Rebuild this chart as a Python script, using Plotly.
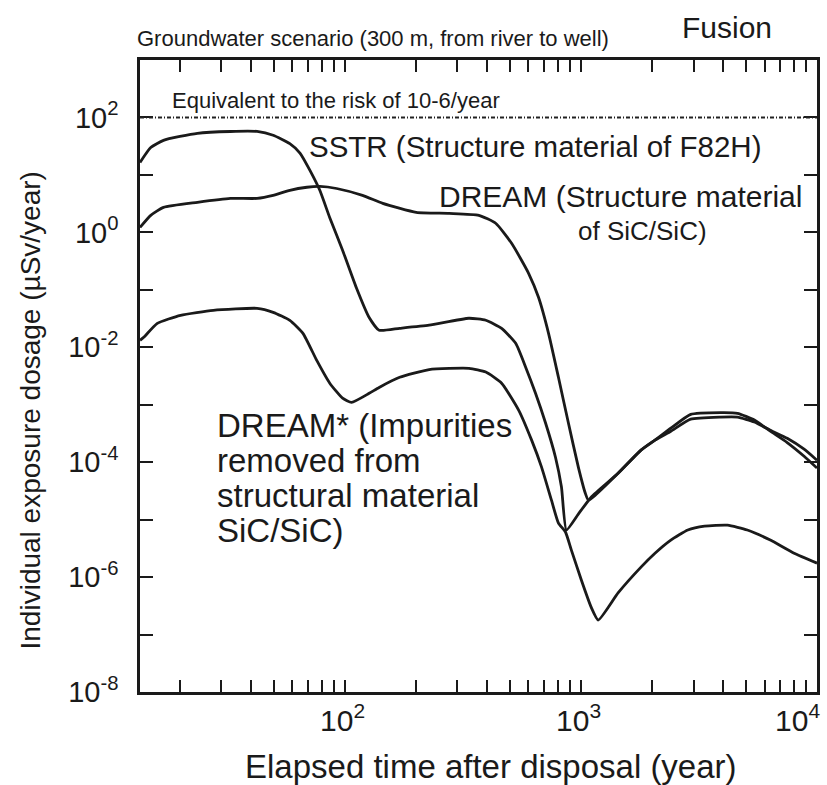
import math
import plotly.graph_objects as go

# ---------------- data ----------------
sstr_t = [13.6, 15.1, 17.1, 23.8, 32.8, 42.6, 49.8, 58.6, 64.7, 71.3,
          78.5, 86.5, 98, 112, 127, 140, 171, 228, 336, 396,
          462, 530, 584, 643, 709, 781, 828, 869, 976, 1106,
          1438, 1798, 2061, 2405, 2919, 3906, 4605, 5430, 6343, 7478,
          8818, 10000]
sstr_v = [16.5, 30, 40, 53, 57, 57, 49, 35, 24, 12,
          5.4, 1.8, 0.49, 0.11, 0.033, 0.0198, 0.0214, 0.0242, 0.032, 0.0295,
          0.0214, 0.0117, 0.0045, 1.58e-3, 4.8e-4, 1.22e-4, 3.7e-5, 6.6e-6, 1.25e-5, 2.46e-5,
          6.4e-5, 1.62e-4, 2.42e-4, 3.9e-4, 6.8e-4, 7.3e-4, 7.1e-4, 5.4e-4, 3.46e-4, 2.2e-4,
          1.27e-4, 7.9e-5]

dream_t = [13.6, 15.1, 17.1, 23.8, 32.8, 42.6, 49.8, 58.6, 69.2, 78.5,
           92.5, 119, 145, 201, 277, 370, 436, 510, 601, 662,
           730, 804, 886, 976, 1044, 1076, 1152, 1438, 1798, 2061,
           2405, 2919, 3906, 4605, 5430, 6343, 7478, 8818, 10000]
dream_v = [1.22, 1.98, 2.72, 3.33, 3.9, 3.9, 4.4, 5.4, 6.1, 6.3,
           5.8, 4.4, 3.2, 2.23, 2.14, 1.98, 1.44, 0.64, 0.194, 0.074,
           0.0175, 3.0e-3, 4.8e-4, 8.2e-5, 2.9e-5, 2.18e-5, 2.67e-5, 6.4e-5, 1.62e-4, 2.42e-4,
           3.46e-4, 5.6e-4, 6.1e-4, 6.1e-4, 5.0e-4, 3.6e-4, 2.6e-4, 1.68e-4, 1.08e-4]

dreamstar_t = [13.6, 14.1, 16.1, 20.2, 27.8, 42.6, 49.8, 58.6, 66.6, 76.2,
               86.5, 98, 107, 127, 140, 171, 228, 336, 396, 462,
               546, 619, 682, 751, 804, 861, 912, 1005, 1106, 1185,
               1438, 1798, 2061, 2405, 2838, 3343, 4178, 5070, 6343, 8001,
               10000]
dreamstar_v = [0.0132, 0.0149, 0.0261, 0.036, 0.044, 0.0476, 0.0406, 0.0295, 0.0175, 5.9e-3,
               2.37e-3, 1.30e-3, 1.10e-3, 1.58e-3, 2.0e-3, 3.0e-3, 4.1e-3, 4.3e-3, 3.7e-3, 2.37e-3,
               8.0e-4, 2.42e-4, 8.2e-5, 2.18e-5, 8.7e-6, 6.1e-6, 2.95e-6, 8.9e-7, 3.0e-7, 1.79e-7,
               5.3e-7, 1.49e-6, 2.6e-6, 4.4e-6, 6.6e-6, 7.7e-6, 8.0e-6, 6.6e-6, 4.4e-6, 2.6e-6,
               1.75e-6]

risk_level = 100  # "Equivalent to the risk of 10-6/year"

x_min = 13.6
x_major = [100, 1000, 10000]
x_major_text = ["10<sup>2</sup>", "10<sup>3</sup>", "10<sup>4</sup>"]
x_minor = [20, 30, 40, 50, 60, 70, 80, 90,
           200, 300, 400, 500, 600, 700, 800, 900,
           2000, 3000, 4000, 5000, 6000, 7000, 8000, 9000]
y_ticks = [1e-8, 1e-7, 1e-6, 1e-5, 1e-4, 1e-3, 1e-2, 1e-1, 1e0, 1e1, 1e2]
y_text = ["10<sup>-8</sup>", "", "10<sup>-6</sup>", "", "10<sup>-4</sup>", "",
          "10<sup>-2</sup>", "", "10<sup>0</sup>", "", "10<sup>2</sup>"]

# ---------------- layout geometry ----------------
W, H = 827, 785
L, R, T, B = 140, 820, 60, 692
FONT = "Arial, Liberation Sans, Helvetica, sans-serif"
INK = "#1a1a1a"


def P(px, py):
    return (px - L) / (R - L), (B - py) / (B - T)


fig = go.Figure()
line_style = dict(color=INK, width=2.8, shape="spline", smoothing=0.5)
for name, t, v in [("SSTR", sstr_t, sstr_v),
                   ("DREAM", dream_t, dream_v),
                   ("DREAM*", dreamstar_t, dreamstar_v)]:
    fig.add_trace(go.Scatter(x=t, y=v, mode="lines", name=name,
                             line=line_style, showlegend=False))

fig.add_hline(y=risk_level, line=dict(color="#222", width=2, dash="4px,2px,1px,2px"))

xrange_log = [math.log10(x_min), 4]
all_x_ticks = sorted(x_major + x_minor)
fig.update_layout(
    xaxis=dict(type="log", range=xrange_log,
               showline=True, linecolor=INK, linewidth=2.5, mirror="ticks",
               ticks="inside", ticklen=12, tickwidth=2, tickcolor=INK,
               tickvals=all_x_ticks, ticktext=[""] * len(all_x_ticks),
               showgrid=False, zeroline=False),
    yaxis=dict(type="log", range=[-8, 3],
               showline=True, linecolor=INK, linewidth=2.5, mirror="ticks",
               ticks="inside", ticklen=13, tickwidth=2, tickcolor=INK,
               tickvals=y_ticks, ticktext=y_text,
               tickfont=dict(family=FONT, size=29, color=INK),
               ticklabelstandoff=13,
               showgrid=False, zeroline=False),
)

ann = []


def add_text(text, px, py, size, xanchor="left", yanchor="middle", angle=0):
    x, y = P(px, py)
    ann.append(dict(text=text, x=x, y=y, xref="paper", yref="paper",
                    xanchor=xanchor, yanchor=yanchor, showarrow=False, textangle=angle,
                    font=dict(family=FONT, size=size, color=INK)))


# x tick labels
for v, txt in zip(x_major, x_major_text):
    px = L + (math.log10(v) - xrange_log[0]) / (xrange_log[1] - xrange_log[0]) * (R - L)
    if v == 10000:
        add_text(txt, px + 5, 718, 30, xanchor="right")
    else:
        add_text(txt, px - 2, 718, 30, xanchor="center")

add_text("Groundwater scenario (300 m, from river to well)", 135, 38, 22)
add_text("Fusion", 682, 28, 30)
add_text("Equivalent to the risk of 10-6/year", 170, 100, 22)
add_text("SSTR (Structure material of F82H)", 308, 147, 29.5)
add_text("DREAM (Structure material", 438, 196, 30)
add_text("of SiC/SiC)", 578, 231, 26)
for i, s in enumerate(["DREAM* (Impurities", "removed from",
                       "structural material", "SiC/SiC)"]):
    add_text(s, 215, 425 + 35 * i, 33)

add_text("Elapsed time after disposal (year)", 493, 766, 33, xanchor="center")
add_text("Individual exposure dosage (\u00b5Sv/year)", 30, 410, 28,
         xanchor="center", angle=-90)

fig.update_layout(width=W, height=H, autosize=False,
                  margin=dict(l=L, r=W - R, t=T, b=H - B),
                  paper_bgcolor="white", plot_bgcolor="white",
                  annotations=ann, showlegend=False)

fig.write_html("out.html")
